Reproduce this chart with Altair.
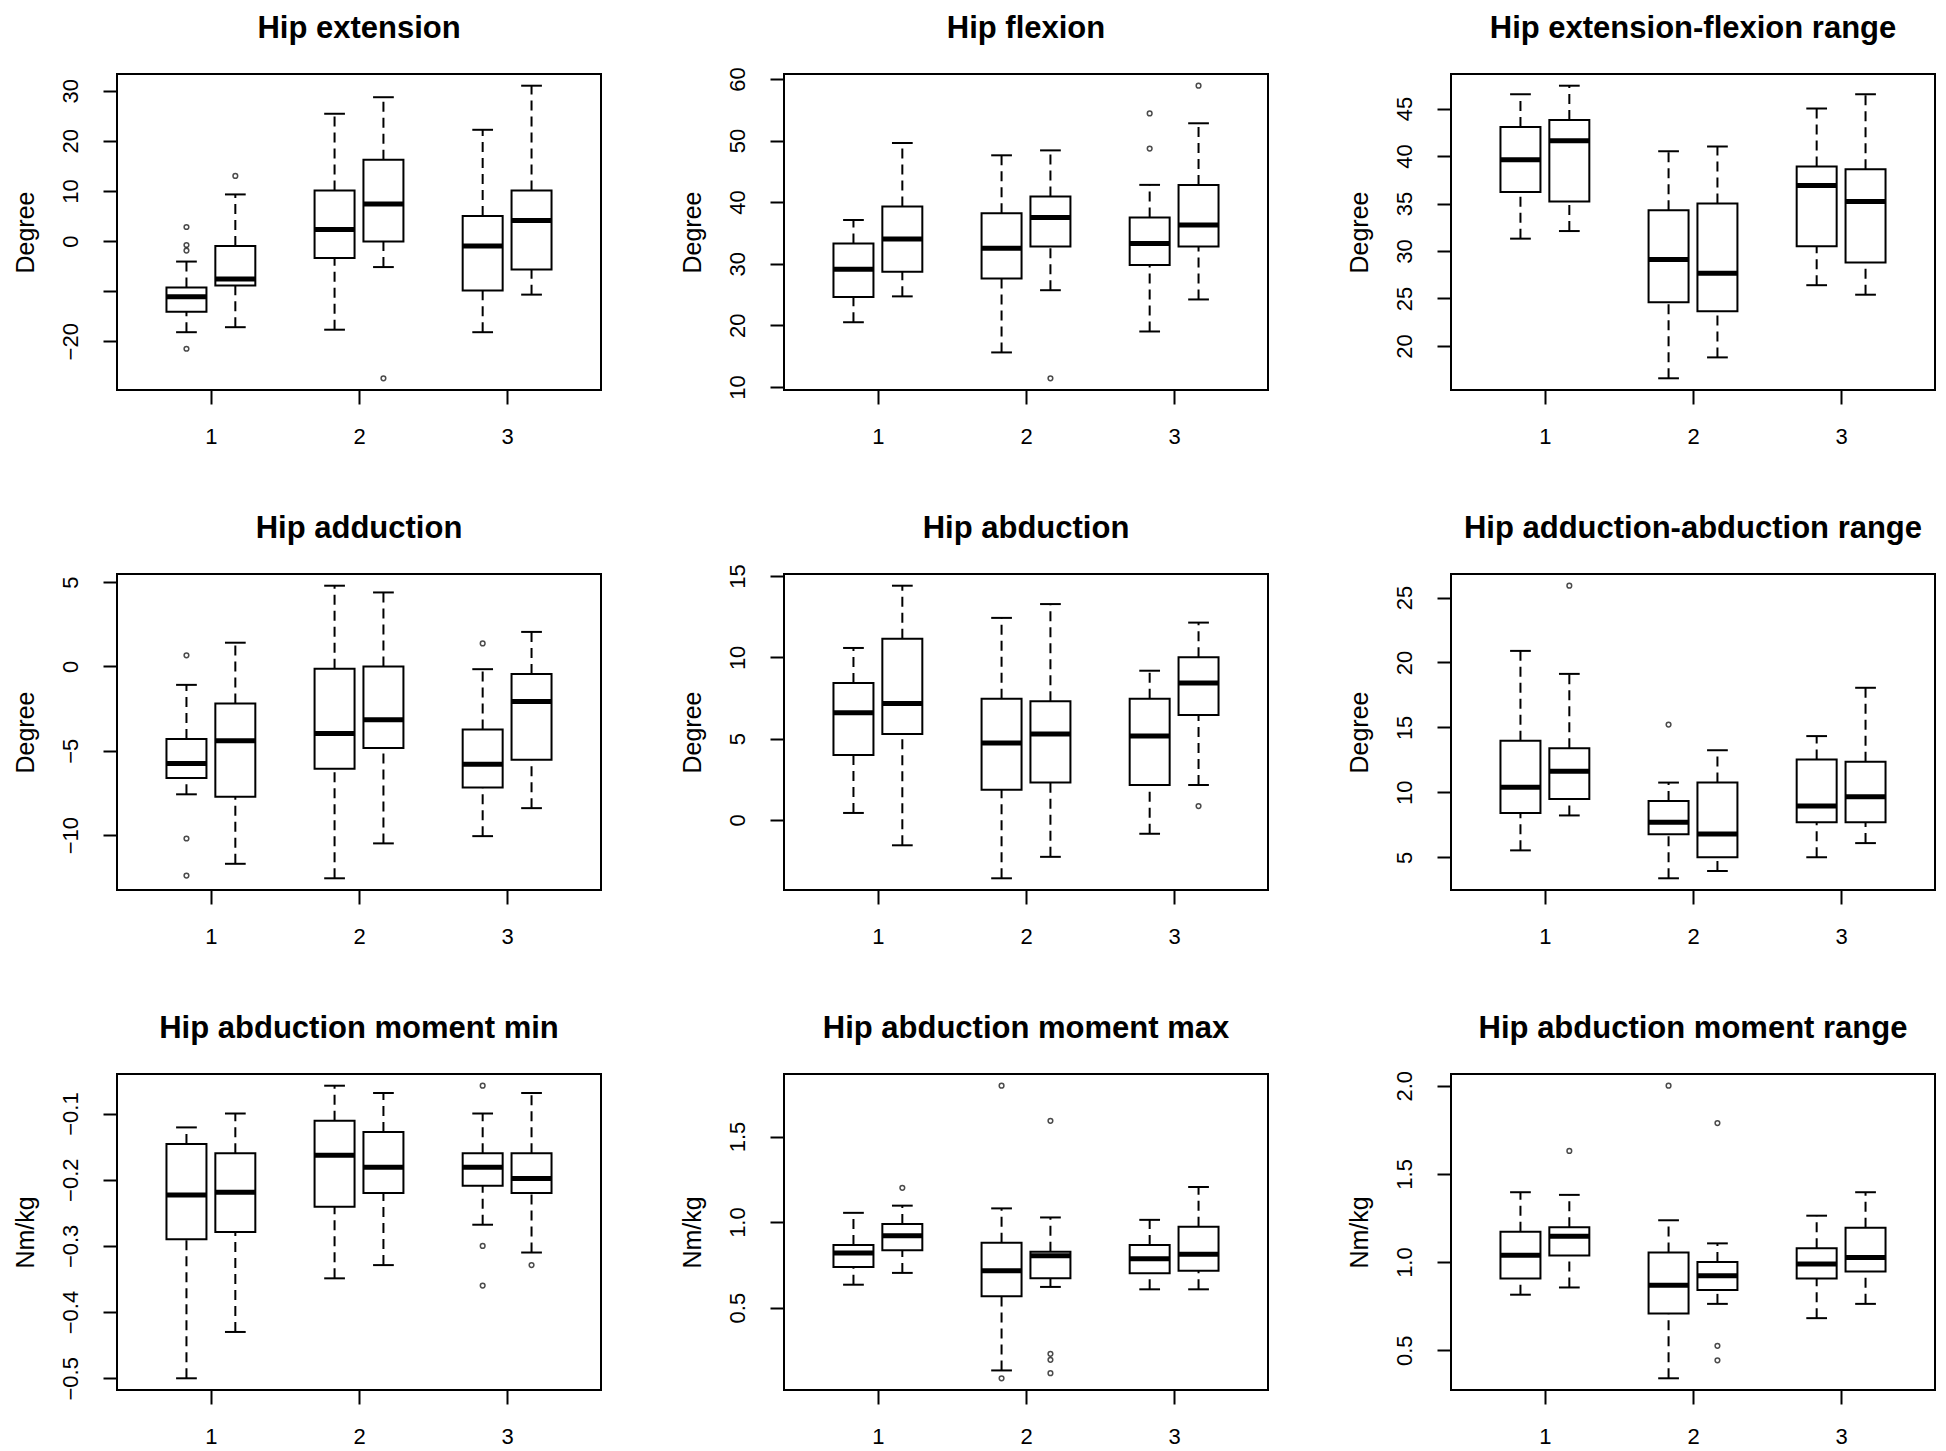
import altair as alt
import pandas as pd

FONT = "Liberation Sans"

TITLES = [
    "Hip extension", "Hip flexion", "Hip extension-flexion range",
    "Hip adduction", "Hip abduction", "Hip adduction-abduction range",
    "Hip abduction moment min", "Hip abduction moment max", "Hip abduction moment range",
]
YTITLES = ["Degree"] * 6 + ["Nm/kg"] * 3

# Box order within each panel: group 1 (left, right), group 2 (left, right), group 3 (left, right)
GROUPS = [1, 1, 2, 2, 3, 3]
SIDES = [0, 1, 0, 1, 0, 1]

LOWER = [
    [-18.2, -17.2, -17.7, -5.2, -18.2, -10.7],
    [20.5, 24.7, 15.6, 25.7, 19.0, 24.2],
    [31.3, 32.1, 16.6, 18.8, 26.4, 25.4],
    [-7.58, -11.7, -12.56, -10.49, -10.06, -8.4],
    [0.43, -1.56, -3.59, -2.27, -0.85, 2.15],
    [5.53, 8.22, 3.38, 3.94, 5.0, 6.09],
    [-0.5, -0.43, -0.349, -0.329, -0.268, -0.31],
    [0.634, 0.703, 0.133, 0.621, 0.607, 0.607],
    [0.815, 0.856, 0.341, 0.763, 0.682, 0.763],
]
Q1 = [
    [-14.1, -8.9, -3.4, -0.1, -9.9, -5.7],
    [24.6, 28.7, 27.6, 32.8, 29.8, 32.8],
    [36.2, 35.2, 24.6, 23.65, 30.5, 28.8],
    [-6.62, -7.73, -6.07, -4.84, -7.17, -5.53],
    [3.99, 5.29, 1.86, 2.31, 2.15, 6.45],
    [8.4, 9.49, 6.77, 5.0, 7.69, 7.69],
    [-0.29, -0.279, -0.241, -0.22, -0.209, -0.22],
    [0.738, 0.835, 0.567, 0.672, 0.701, 0.716],
    [0.907, 1.037, 0.709, 0.841, 0.907, 0.946],
]
MED = [
    [-11.1, -7.6, 2.3, 7.4, -1.0, 4.1],
    [29.1, 34.0, 32.5, 37.5, 33.3, 36.3],
    [39.6, 41.6, 29.1, 27.65, 36.9, 35.2],
    [-5.76, -4.41, -3.98, -3.16, -5.8, -2.07],
    [6.59, 7.16, 4.74, 5.29, 5.17, 8.43],
    [10.4, 11.62, 7.69, 6.8, 8.95, 9.66],
    [-0.223, -0.219, -0.163, -0.181, -0.181, -0.198],
    [0.82, 0.92, 0.716, 0.803, 0.785, 0.812],
    [1.039, 1.146, 0.869, 0.922, 0.989, 1.026],
]
Q3 = [
    [-9.3, -1.0, 10.1, 16.2, 5.0, 10.1],
    [33.3, 39.3, 38.2, 40.9, 37.5, 42.8],
    [43.05, 43.8, 34.3, 35.0, 38.9, 38.6],
    [-4.3, -2.2, -0.14, 0.0, -3.73, -0.45],
    [8.43, 11.15, 7.46, 7.3, 7.46, 10.01],
    [13.97, 13.39, 9.33, 10.75, 12.53, 12.35],
    [-0.146, -0.16, -0.111, -0.128, -0.16, -0.16],
    [0.866, 0.989, 0.879, 0.826, 0.866, 0.973],
    [1.172, 1.198, 1.054, 1.0, 1.078, 1.194],
]
UPPER = [
    [-4.1, 9.3, 25.4, 28.7, 22.2, 31.0],
    [37.1, 49.6, 47.6, 48.4, 42.8, 52.8],
    [46.5, 47.4, 40.5, 41.0, 45.0, 46.5],
    [-1.09, 1.41, 4.79, 4.39, -0.16, 2.05],
    [10.58, 14.41, 12.43, 13.28, 9.18, 12.14],
    [20.89, 19.12, 10.75, 13.24, 14.33, 18.05],
    [-0.121, -0.1, -0.058, -0.069, -0.1, -0.069],
    [1.054, 1.096, 1.08, 1.027, 1.013, 1.205],
    [1.396, 1.381, 1.237, 1.106, 1.263, 1.396],
]
# Outliers: (box index, value)
OUTLIERS = [
    [(0, 2.8), (0, -0.8), (0, -1.9), (0, -21.5), (1, 13.0), (3, -27.4)],
    [(3, 11.4), (4, 54.4), (4, 48.7), (5, 58.9)],
    [],
    [(0, 0.66), (0, -10.2), (0, -12.4), (4, 1.37)],
    [(5, 0.85)],
    [(1, 25.91), (2, 15.22)],
    [(4, -0.058), (4, -0.3), (4, -0.36), (5, -0.329)],
    [(1, 1.2), (2, 1.797), (2, 0.087), (3, 1.592), (3, 0.23), (3, 0.195), (3, 0.117)],
    [(1, 1.63), (2, 2.0), (3, 1.788), (3, 0.525), (3, 0.443)],
]
YTICKS = [
    [-20, -10, 0, 10, 20, 30],
    [10, 20, 30, 40, 50, 60],
    [20, 25, 30, 35, 40, 45],
    [-10, -5, 0, 5],
    [0, 5, 10, 15],
    [5, 10, 15, 20, 25],
    [-0.5, -0.4, -0.3, -0.2, -0.1],
    [0.5, 1.0, 1.5],
    [0.5, 1.0, 1.5, 2.0],
]
YFMT = ["d"] * 6 + [".1f"] * 3
XTICKS = [1, 2, 3]

W, H = 484, 316
XDOMAIN = [0.366, 3.634]

POS = "datum.group + (datum.side == 0 ? -0.165 : 0.165)"


def panel(i):
    box = pd.DataFrame({
        "group": GROUPS, "side": SIDES,
        "lower": LOWER[i], "q1": Q1[i], "med": MED[i], "q3": Q3[i], "upper": UPPER[i],
    })
    out = pd.DataFrame({
        "group": [GROUPS[b] for b, _ in OUTLIERS[i]],
        "side": [SIDES[b] for b, _ in OUTLIERS[i]],
        "value": [v for _, v in OUTLIERS[i]],
    })
    allv = LOWER[i] + UPPER[i] + [v for _, v in OUTLIERS[i]]
    lo, hi = min(allv), max(allv)
    pad = 0.04 * (hi - lo)
    yscale = alt.Scale(domain=[lo - pad, hi + pad], nice=False, zero=False)
    xscale = alt.Scale(domain=XDOMAIN, nice=False, zero=False)

    xaxis = alt.Axis(values=XTICKS, format="d", title=None, grid=False, domain=False,
                     tickSize=14, tickWidth=2, tickColor="black",
                     labelFontSize=22, labelPadding=22, labelColor="black",
                     labelAngle=0, labelBaseline="top", labelOverlap=False, labelFlush=False)
    ykw = dict(values=YTICKS[i], format=YFMT[i], title=YTITLES[i], grid=False, domain=False,
               tickSize=14, tickWidth=2, tickColor="black",
               labelFontSize=22, labelPadding=21, labelColor="black",
               labelAngle=-90, labelAlign="center", labelBaseline="bottom",
               labelOverlap=False, labelFlush=False,
               titleFontSize=25, titleFontWeight="normal", titleColor="black",
               titleAngle=-90, titleX=-92, titleY=H / 2,
               titleAlign="center", titleBaseline="middle")
    if i == 0:
        ykw["labelExpr"] = "datum.value == -10 ? '' : datum.label"
    yaxis = alt.Axis(**ykw)

    base = alt.Chart(box).transform_calculate(
        xc=POS, xl="datum.xc - 0.135", xr="datum.xc + 0.135",
        cl="datum.xc - 0.07", cr="datum.xc + 0.07",
    )
    dash = dict(color="black", strokeWidth=2, strokeDash=[10, 6])
    wh_hi = base.mark_rule(**dash).encode(
        x=alt.X("xc:Q", scale=xscale, axis=xaxis),
        y=alt.Y("q3:Q", scale=yscale, axis=yaxis), y2="upper:Q")
    wh_lo = base.mark_rule(**dash).encode(
        x=alt.X("xc:Q", scale=xscale, axis=xaxis),
        y=alt.Y("lower:Q", scale=yscale, axis=yaxis), y2="q1:Q")
    cap_hi = base.mark_rule(color="black", strokeWidth=2).encode(
        x=alt.X("cl:Q", scale=xscale, axis=xaxis), x2="cr:Q",
        y=alt.Y("upper:Q", scale=yscale, axis=yaxis))
    cap_lo = base.mark_rule(color="black", strokeWidth=2).encode(
        x=alt.X("cl:Q", scale=xscale, axis=xaxis), x2="cr:Q",
        y=alt.Y("lower:Q", scale=yscale, axis=yaxis))
    boxes = base.mark_rect(fill="white", stroke="black", strokeWidth=2).encode(
        x=alt.X("xl:Q", scale=xscale, axis=xaxis), x2="xr:Q",
        y=alt.Y("q1:Q", scale=yscale, axis=yaxis), y2="q3:Q")
    median = base.mark_rule(color="black", strokeWidth=5).encode(
        x=alt.X("xl:Q", scale=xscale, axis=xaxis), x2="xr:Q",
        y=alt.Y("med:Q", scale=yscale, axis=yaxis))
    layers = [wh_hi, wh_lo, cap_hi, cap_lo, boxes, median]
    if len(out):
        pts = alt.Chart(out).transform_calculate(xc=POS).mark_point(
            shape="circle", filled=False, size=22, strokeWidth=1.5, color="black"
        ).encode(
            x=alt.X("xc:Q", scale=xscale, axis=xaxis),
            y=alt.Y("value:Q", scale=yscale, axis=yaxis))
        layers.append(pts)
    title = alt.Chart(pd.DataFrame({"t": [TITLES[i]]})).mark_text(
        font=FONT, fontSize=31, fontWeight="bold", color="black",
        align="center", baseline="alphabetic"
    ).encode(text="t:N", x=alt.value(W / 2), y=alt.value(-36))
    layers.append(title)
    return alt.layer(*layers).properties(width=W, height=H)


rows = [alt.hconcat(*[panel(r * 3 + c) for c in range(3)], spacing=77) for r in range(3)]
chart = (
    alt.vconcat(*rows, spacing=64)
    .properties(padding={"top": 4, "left": 4, "right": 0, "bottom": 0})
    .configure_view(stroke="black", strokeWidth=2)
    .configure_axis(labelFont=FONT, titleFont=FONT)
)
chart.save("out.html", embed_options={"renderer": "svg", "actions": False})
